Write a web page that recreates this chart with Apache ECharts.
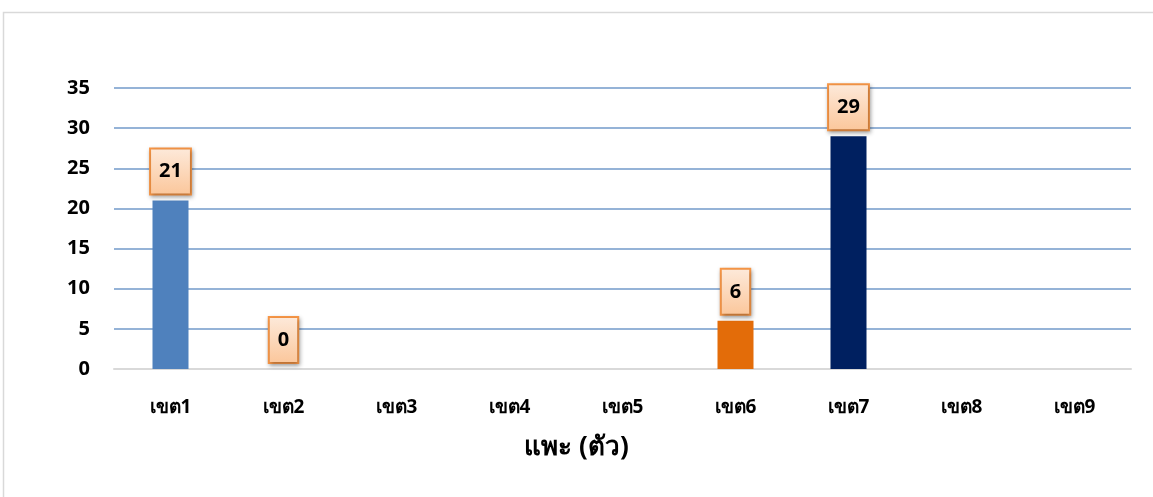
<!DOCTYPE html>
<html>
<head>
<meta charset="utf-8">
<script src="https://cdn.jsdelivr.net/npm/echarts@6/dist/echarts.min.js"></script>
<style>
html,body{margin:0;padding:0;background:#fff;}
#chart{width:1153px;height:497px;}
</style>
</head>
<body>
<div id="chart"></div>
<script>
const categories = ['เขต1','เขต2','เขต3','เขต4','เขต5','เขต6','เขต7','เขต8','เขต9'];
const values = [21, 0, null, null, null, 6, 29, null, null];
const barColors = ['#4f81bd','#4f81bd','#4f81bd','#4f81bd','#4f81bd','#e36c09','#002060','#4f81bd','#4f81bd'];
const yTicks = {min: 0, max: 35, interval: 5};
const axisTitle = 'แพะ (ตัว)';

const chart = echarts.init(document.getElementById('chart'));
const font = "Tahoma, 'Noto Sans', sans-serif";
chart.setOption({
  backgroundColor: '#ffffff',
  animation: false,
  graphic: [{
    type: 'rect', shape: {x: 3.5, y: 12.5, width: 1170, height: 500},
    style: {fill: 'none', stroke: '#d9d9d9', lineWidth: 1.5}, silent: true
  }, {
    type: 'text', left: 'center', top: 435,
    style: {text: axisTitle, font: "bold 26px " + font, fill: '#000'}
  }],
  grid: {left: 114, right: 22, top: 88, bottom: 128},
  xAxis: {
    type: 'category', data: categories,
    axisLine: {lineStyle: {color: '#d9d9d9', width: 2}},
    axisTick: {show: false},
    axisLabel: {margin: 29, fontSize: 19, fontWeight: 'bold', color: '#000', fontFamily: font}
  },
  yAxis: {
    type: 'value', min: yTicks.min, max: yTicks.max, interval: yTicks.interval,
    axisLine: {show: false}, axisTick: {show: false},
    axisLabel: {margin: 24, fontSize: 20, fontWeight: 'bold', color: '#000', fontFamily: font},
    splitLine: {lineStyle: {color: '#95b3d7', width: 2}}
  },
  series: [{
    type: 'bar',
    barWidth: 36,
    data: values.map((v, i) => ({value: v, itemStyle: {color: barColors[i]}})),
    label: {
      show: true, position: 'top', distance: 7,
      fontSize: 20, fontWeight: 'bold', color: '#000', fontFamily: font,
      formatter: p => (p.value === null || p.value === undefined) ? '' : String(p.value),
      backgroundColor: new echarts.graphic.LinearGradient(0, 0, 0, 1, [
        {offset: 0, color: '#fdeadb'}, {offset: 1, color: '#fbc69a'}
      ]),
      borderColor: '#f79646', borderWidth: 2,
      padding: [12, 8, 12, 8],
      shadowColor: 'rgba(0,0,0,0.3)', shadowBlur: 4, shadowOffsetX: 1, shadowOffsetY: 2
    }
  }]
});
</script>
</body>
</html>
